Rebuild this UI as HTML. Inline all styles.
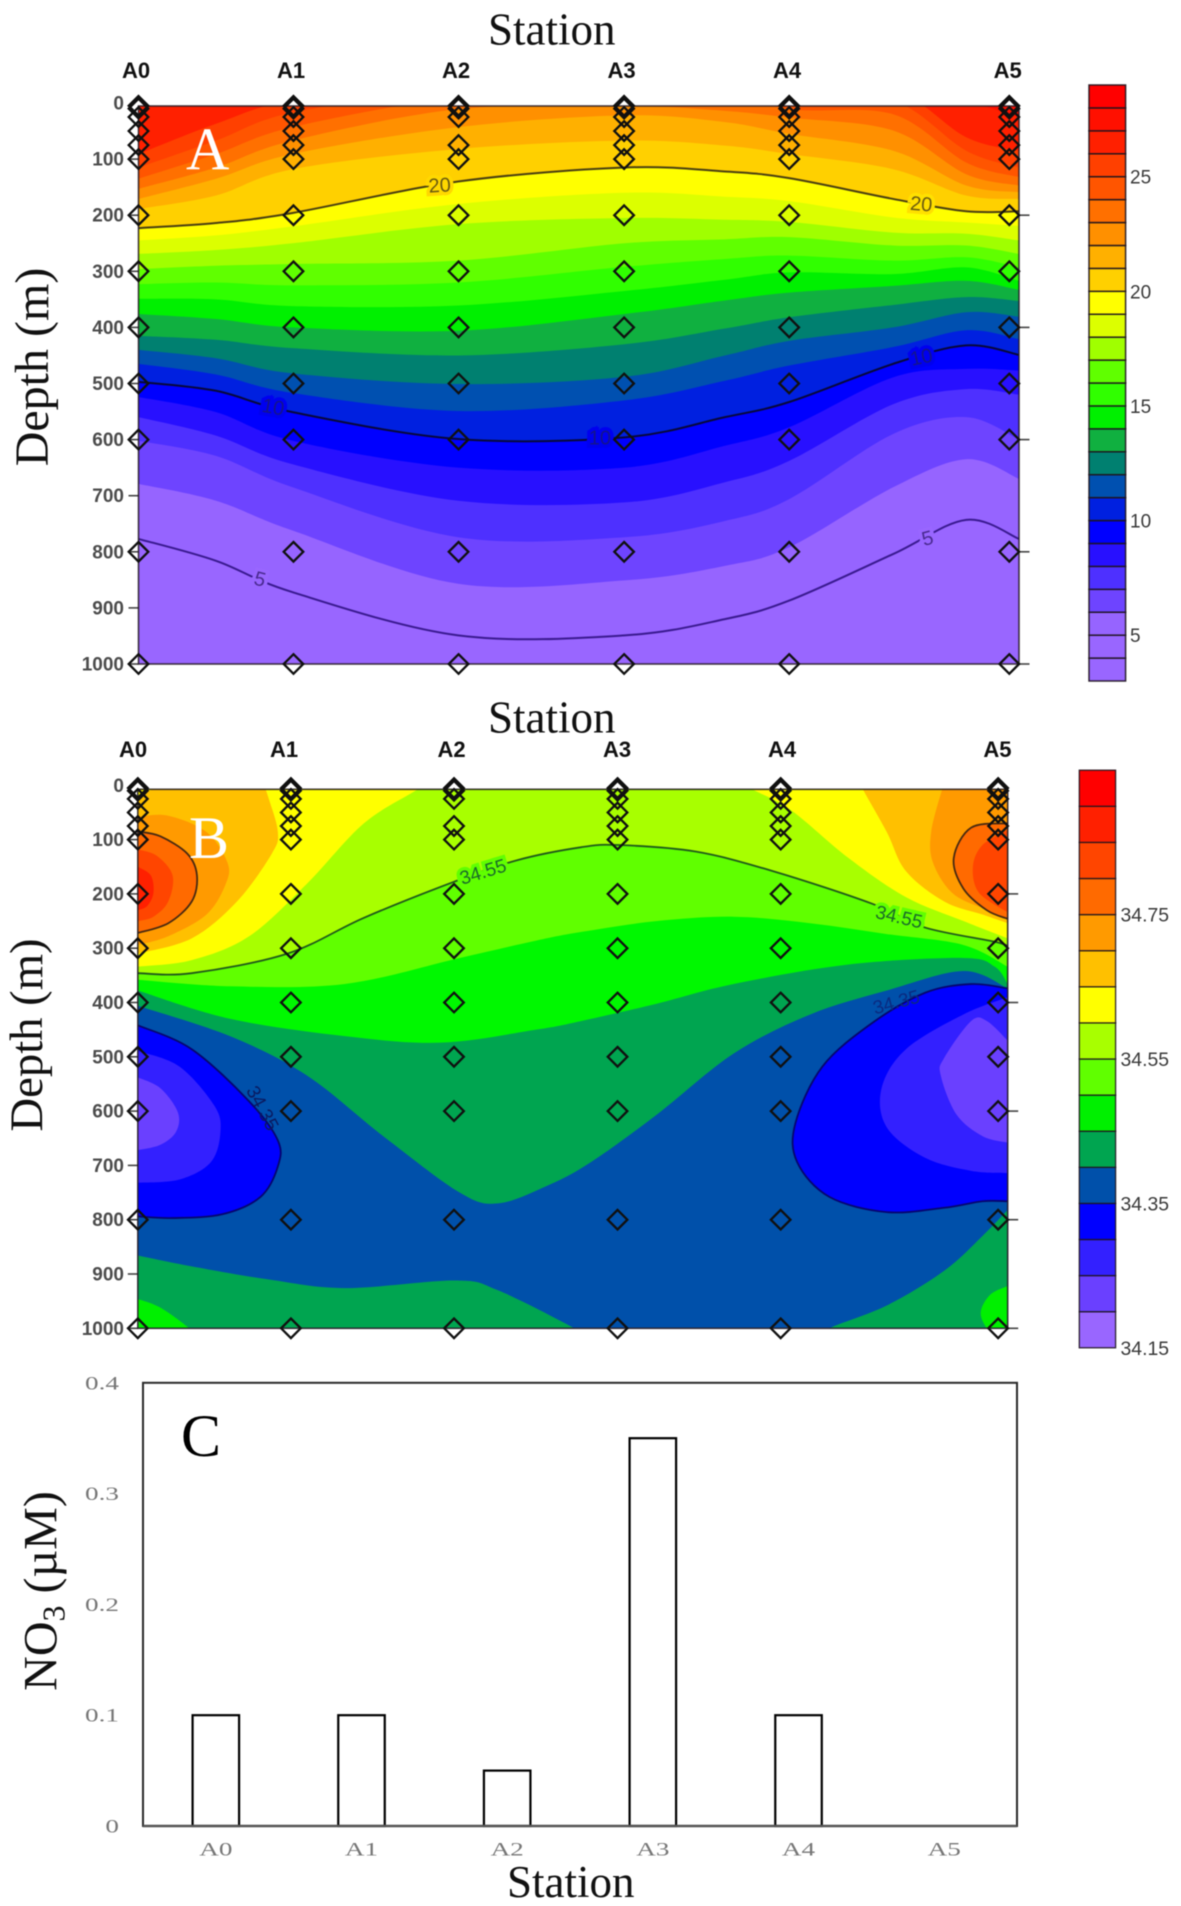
<!DOCTYPE html>
<html lang="en">
<head>
<meta charset="utf-8">
<title>Temperature, salinity and nitrate by station</title>
<style>
html,body{margin:0;padding:0;background:#fff;}
svg{display:block;filter:blur(.5px);}
.serif{font-family:"Liberation Serif",serif;}
.sans{font-family:"Liberation Sans",sans-serif;}
</style>
</head>
<body>
<svg id="fig" xmlns="http://www.w3.org/2000/svg" width="1181" height="1906" viewBox="0 0 1181 1906">
  <rect x="0" y="0" width="1181" height="1906" fill="#ffffff"/>
  <defs>
    <clipPath id="clipA"><rect x="138.5" y="106" width="880.5" height="558"/></clipPath>
    <clipPath id="clipB"><rect x="137.8" y="789.3" width="869.9" height="539"/></clipPath>
  </defs>
  <g id="panelA"></g>
  <g id="panelB"></g>
  <g id="panelC"></g>
  <g id="titles">
    <text class="serif" x="488" y="44.6" font-size="45" fill="#111">Station</text>
    <text class="serif" x="488" y="732.5" font-size="45" fill="#111">Station</text>
    <text class="serif" x="507" y="1897" font-size="45" fill="#111">Station</text>
    <text class="serif" transform="translate(48,367) rotate(-90)" text-anchor="middle" font-size="48" fill="#111">Depth (m)</text>
    <text class="serif" transform="translate(42,1035) rotate(-90)" text-anchor="middle" font-size="46.7" fill="#111">Depth (m)</text>
    <text class="serif" transform="translate(56.5,1591) rotate(-90)" text-anchor="middle" font-size="48" fill="#111">NO<tspan dy="8" font-size="32">3</tspan><tspan dy="-8">&#160;(µM)</tspan></text>
    <text class="serif" x="186" y="169.6" font-size="60" fill="#ffffff">A</text>
    <text class="serif" x="189" y="858" font-size="60" fill="#ffffff">B</text>
    <text class="serif" x="181" y="1456" font-size="60" fill="#000000">C</text>
  </g>
</svg>
<script>
// ---------- shared axes data ----------
const stationNames = ['A0', 'A1', 'A2', 'A3', 'A4', 'A5'];
const stationDistance = [0, 17.6, 36.35, 55.15, 73.9, 98.9];
const castDepths = [5, 10, 25, 50, 75, 100, 200, 300, 400, 500, 600, 800, 1000];
const castDepthsA2 = [5, 10, 25, 75, 100, 200, 300, 400, 500, 600, 800, 1000];
const depthTicks = [0, 100, 200, 300, 400, 500, 600, 700, 800, 900, 1000];
const rightDepthTicks = [200, 400, 600, 800, 1000];

// ---------- panel A: isotherm depths (m) along the section ----------
const tempSectionDistance = [0, 8.8, 17.5, 36.3, 55.2, 66.6, 73.9, 85.7, 94, 100];
const isotherm4  = [900, 950, 1000, 1010, 1010, 1000, 990, 960, 930, 930];
const isotherm5  = [777, 816, 872, 949, 949, 920, 887, 804, 743, 777];
const isotherm6  = [679, 709, 762, 857, 851, 825, 792, 685, 635, 670];
const isotherm7  = [602, 629, 685, 774, 774, 745, 706, 590, 560, 600];
const isotherm8  = [560, 593, 644, 709, 712, 676, 638, 537, 510, 520];
const isotherm9  = [524, 551, 602, 650, 650, 611, 578, 489, 474, 477];
const isotherm10 = [497, 513, 551, 599, 596, 560, 533, 465, 432, 449];
const isotherm11 = [465, 484, 517, 549, 530, 495, 468, 435, 405, 421];
const isotherm12 = [440, 455, 482, 501, 488, 450, 424, 400, 373, 381];
const isotherm13 = [415, 422, 437, 450, 430, 402, 382, 360, 346, 353];
const isotherm14 = [376, 385, 400, 406, 376, 352, 338, 326, 317, 333];
const isotherm15 = [349, 350, 362, 361, 335, 315, 302, 305, 293, 317];
const isotherm16 = [323, 320, 325, 320, 292, 278, 272, 281, 275, 293];
const isotherm17 = [296, 290, 287, 281, 250, 243, 239, 254, 254, 269];
const isotherm18 = [269, 262, 250, 216, 205, 208, 212, 231, 233, 245];
const isotherm19 = [245, 236, 220, 180, 160, 167, 175, 204, 213, 219];
const isotherm20 = [223, 214, 196, 140, 115, 122, 134, 171, 193, 193];
const isotherm21 = [189, 165, 118, 82, 67, 76, 91, 118, 165, 171];
const isotherm22 = [171, 135, 91, 43, 22, 34, 55, 85, 147, 159];
const isotherm23 = [153, 115, 67, 11, 5, 14, 26, 49, 127, 147];
const isotherm24 = [135, 91, 43, -10, -25, -25, 11, 20, 106, 132];
const isotherm25 = [115, 67, 17, -25, -40, -40, -25, -5, 85, 115];
const isotherm26 = [91, 37, -5, -40, -50, -50, -40, -25, 61, 85];
const isotherm27 = [-10, -25, -50, -60, -60, -60, -60, -50, -5, 25];
const isotherm28 = [-60, -60, -60, -60, -60, -60, -60, -60, -40, -30];
const tempLevels = [4, 5, 6, 7, 8, 9, 10, 11, 12, 13, 14, 15, 16, 17, 18, 19, 20, 21, 22, 23, 24, 25, 26, 27, 28];
const isothermDepths = [isotherm4, isotherm5, isotherm6, isotherm7, isotherm8, isotherm9, isotherm10, isotherm11, isotherm12, isotherm13, isotherm14, isotherm15, isotherm16, isotherm17, isotherm18, isotherm19, isotherm20, isotherm21, isotherm22, isotherm23, isotherm24, isotherm25, isotherm26, isotherm27, isotherm28];
const tempContourLevels = [5, 10, 20];
const tempColorbarEdges = [3, 4, 5, 6, 7, 8, 9, 10, 11, 12, 13, 14, 15, 16, 17, 18, 19, 20, 21, 22, 23, 24, 25, 26, 27, 28, 29];
const tempColorbarTicks = [5, 10, 15, 20, 25];
const tempColors = ['#9966ff', '#9966ff', '#9664ff', '#6e44ff', '#4e30ff', '#2810ff', '#0000ff', '#0020e0', '#0050b0', '#008070', '#10b040', '#00f000', '#30ff00', '#60ff00', '#a0ff00', '#dcff00', '#ffff00', '#ffd000', '#ffb000', '#ff9000', '#ff7000', '#ff5500', '#ff4000', '#ff2000', '#ff1000', '#ff0000'];
const tempContourLabels = [
  {level: 20, u: 34.2, angle: -4, ink: '#6a5a10', halo: '#ffd800'},
  {level: 20, u: 88.9, angle: 5, ink: '#6a5a10', halo: '#ffe000'},
  {level: 10, u: 15.3, angle: 10, ink: '#14148c', halo: '#0000f0'},
  {level: 10, u: 52.4, angle: 0, ink: '#14148c', halo: '#0000f0'},
  {level: 10, u: 88.9, angle: -12, ink: '#14148c', halo: '#0000f0'},
  {level: 5, u: 13.8, angle: 15, ink: '#4a2a90', halo: '#9966ff'},
  {level: 5, u: 89.6, angle: -15, ink: '#4a2a90', halo: '#9966ff'}
];

// ---------- panel B: salinity band outlines as [distance %, depth m] ----------
const salinityBelow3435Fill = '#0050aa';
const upperDarkGreen = [[0,406],[10.6,462],[19.4,534],[28.2,646],[37,750],[41.4,770],[47,738],[52,695],[59.7,606],[68.5,494],[77.3,422],[86.1,378],[94.9,342],[100,374]];
const upperGreen = [[0,378],[10.6,430],[23.8,462],[34.8,474],[45.8,450],[51,434],[59.7,402],[68.5,366],[81.7,330],[94.9,318],[98.5,334],[100,366]];
const upperLime = [[0,358],[10.6,370],[23.8,366],[37,318],[45.8,286],[51,270],[59.7,250],[68.5,242],[77.3,254],[86.1,274],[94.9,294],[100,334]];
const isohaline3455 = [[0,346],[6.2,346],[17.2,310],[26,244],[36.3,178],[43.6,138],[51,114],[55.3,110],[64.1,122],[73,158],[84.4,218],[90.5,262],[99,290],[100,302]];
const yellowLeft = [[0,334],[6.2,322],[12.8,278],[19.4,182],[26,70],[32.3,6],[33.9,-18]];
const yellowRight = [[69,-14],[70.5,6],[75.1,46],[81.7,134],[88.3,206],[94.9,250],[100,282]];
const amberLeft = [[0,310],[6.2,282],[11.4,214],[15.4,126],[16.1,86],[15,22],[14.1,-18]];
const amberRight = [[82.6,-18],[83.3,6],[86.1,86],[88.3,158],[92.7,214],[97.1,238],[100,254]];
const orangeLeft = [[0,58],[3.5,56],[7.9,86],[10.3,142],[10.1,182],[7.9,238],[3.5,278],[0,294]];
const orangeRight = [[93.2,-18],[92.5,6],[91.2,86],[91.4,142],[93.6,198],[97.1,226],[100,238]];
const isohaline3475Left = [[0,85],[2.6,94],[5.7,126],[6.8,166],[6.2,214],[3.5,254],[0,272]];
const isohaline3475Right = [[100,70],[95.8,78],[93.8,134],[94.9,190],[97.6,230],[100,246]];
const redOrangeLeft = [[0,118],[2.2,130],[4,166],[3.5,214],[1.8,242],[0,250]];
const redOrangeRight = [[100,82],[97.1,110],[96,150],[96.7,198],[100,234]];
const redLeft = [[0,150],[1.5,166],[1.8,198],[1.1,222],[0,230]];
const isohaline3435Left = [[0,442],[6.2,486],[12.8,582],[16.1,654],[16.1,702],[14.1,758],[9.7,790],[4,797],[0,794]];
const indigoLeft = [[0,489],[4.8,518],[8.8,590],[9.5,638],[8.4,694],[4.8,726],[0,732]];
const violetLeft = [[0,538],[2.6,558],[4.6,602],[4.4,638],[2.6,662],[0,672]];
const isohaline3435Right = [[100,374],[95.8,366],[90.5,382],[84.4,438],[78.7,518],[75.6,622],[75.8,694],[79.5,758],[86.1,786],[92.7,778],[97.1,766],[100,766]];
const indigoRight = [[100,390],[94.9,422],[88.3,486],[85.5,558],[86.1,630],[90.5,686],[95.8,710],[100,714]];
const violetRight = [[100,470],[97.6,434],[95.8,434],[92.7,502],[92.3,534],[94.1,606],[97.1,646],[100,658]];
const bottomDarkGreenLeft = [[0,866],[6.2,886],[15,910],[23.8,926],[36.5,912],[41.4,930],[50.2,1000],[52,1022]];
const bottomGreenLeft = [[0,946],[2.6,962],[5.9,1000],[7,1022]];
const bottomDarkGreenRight = [[78.2,1022],[79.5,1000],[86.1,958],[92.7,894],[97.1,830],[100,782]];
const bottomGreenRight = [[100,922],[98,938],[96.9,970],[97.6,1000],[99,1022]];
const salinityLayers = [
  {key: 'upper-dark-green', fill: '#00a550', curve: upperDarkGreen, corners: [[100,-20],[0,-20]]},
  {key: 'upper-green', fill: '#00f800', curve: upperGreen, corners: [[100,-20],[0,-20]]},
  {key: 'upper-lime', fill: '#60ff00', curve: upperLime, corners: [[100,-20],[0,-20]]},
  {key: 'yellow-green', fill: '#a8ff00', curve: isohaline3455, corners: [[100,-20],[0,-20]]},
  {key: 'yellow-left', fill: '#ffff00', curve: yellowLeft, corners: [[0,-20]]},
  {key: 'yellow-right', fill: '#ffff00', curve: yellowRight, corners: [[100,-20]]},
  {key: 'amber-left', fill: '#ffc000', curve: amberLeft, corners: [[4,-10],[0,20]]},
  {key: 'amber-right', fill: '#ffc000', curve: amberRight, corners: [[100,-20]]},
  {key: 'orange-left', fill: '#ff9a00', curve: orangeLeft, corners: []},
  {key: 'orange-right', fill: '#ff9a00', curve: orangeRight, corners: [[100,-20]]},
  {key: 'deep-orange-left', fill: '#ff6a00', curve: isohaline3475Left, corners: []},
  {key: 'deep-orange-right', fill: '#ff6a00', curve: isohaline3475Right, corners: []},
  {key: 'red-orange-left', fill: '#ff4500', curve: redOrangeLeft, corners: []},
  {key: 'red-orange-right', fill: '#ff4500', curve: redOrangeRight, corners: []},
  {key: 'red-left', fill: '#ff2000', curve: redLeft, corners: []},
  {key: 'blue-left', fill: '#0000ff', curve: isohaline3435Left, corners: []},
  {key: 'indigo-left', fill: '#3320ff', curve: indigoLeft, corners: []},
  {key: 'violet-left', fill: '#6a40ff', curve: violetLeft, corners: []},
  {key: 'blue-right', fill: '#0000ff', curve: isohaline3435Right, corners: []},
  {key: 'indigo-right', fill: '#3320ff', curve: indigoRight, corners: []},
  {key: 'violet-right', fill: '#6a40ff', curve: violetRight, corners: []},
  {key: 'bottom-dark-green-left', fill: '#00a550', curve: bottomDarkGreenLeft, corners: [[0,1030]]},
  {key: 'bottom-green-left', fill: '#00f000', curve: bottomGreenLeft, corners: [[0,1030]]},
  {key: 'bottom-dark-green-right', fill: '#00a550', curve: bottomDarkGreenRight, corners: [[100,1030]]},
  {key: 'bottom-green-right', fill: '#00f000', curve: bottomGreenRight, corners: [[100,1030]]}
];
const salinityContours = [
  {key: '34-55', curve: isohaline3455, stroke: '#1f5a1a'},
  {key: '34-75-left', curve: isohaline3475Left, stroke: '#4a2a10'},
  {key: '34-75-right', curve: isohaline3475Right, stroke: '#4a2a10'},
  {key: '34-35-left', curve: isohaline3435Left, stroke: '#06066e'},
  {key: '34-35-right', curve: isohaline3435Right, stroke: '#06066e'}
];
const salinityContourLabels = [
  {text: '34.55', u: 39.7, d: 160, angle: -17, ink: '#1a6a2a', halo: '#60ff00'},
  {text: '34.55', u: 87.5, d: 243, angle: 13, ink: '#1a6a2a', halo: '#60ff00'},
  {text: '34.35', u: 14.3, d: 595, angle: 62, ink: '#0a1a60', halo: 'none'},
  {text: '34.35', u: 87.2, d: 400, angle: -15, ink: '#0a2a80', halo: 'none'}
];
const salinityColorbarEdges = [34.15, 34.2, 34.25, 34.3, 34.35, 34.4, 34.45, 34.5, 34.55, 34.6, 34.65, 34.7, 34.75, 34.8, 34.85, 34.9, 34.95];
const salinityColorbarTicks = [34.15, 34.35, 34.55, 34.75];
const salinityColors = ['#9966ff', '#6a40ff', '#3320ff', '#0000ff', '#0050aa', '#00a550', '#00f000', '#60ff00', '#a8ff00', '#ffff00', '#ffc000', '#ff9a00', '#ff6a00', '#ff4500', '#ff2000', '#ff0000'];

// ---------- panel C: nitrate ----------
const nitrateValues = [0.1, 0.1, 0.05, 0.35, 0.1, 0];
const nitrateTicks = [0, 0.1, 0.2, 0.3, 0.4];
const nitrateTickLabels = ['0', '0.1', '0.2', '0.3', '0.4'];

// ---------- axis functions ----------
function xA(u) { return 138.5 + u * 8.805; }
function yA(d) { return 103 + d * 0.561; }
function xB(u) { return 137.8 + u * 8.699; }
function yB(d) { return 785.3 + d * 0.543; }
function cbA(v) { return 85 + (29 - v) * 22.923; }
function cbB(v) { return 770.2 + (34.95 - v) * 722; }
function yC(v) { return 1826 - v * 1108; }
function xCBand(i) { return 143 + 145.67 * (i + 0.5); }

const NS = 'http://www.w3.org/2000/svg';
function make(parent, tag, attrs, text) {
  const el = document.createElementNS(NS, tag);
  for (const k in attrs) el.setAttribute(k, attrs[k]);
  if (text !== undefined) el.textContent = text;
  parent.appendChild(el);
  return el;
}
function f(n) { return n.toFixed(2); }
function spline(pts) {
  let s = 'M' + f(pts[0][0]) + ' ' + f(pts[0][1]);
  for (let i = 0; i < pts.length - 1; i++) {
    const p0 = pts[Math.max(i - 1, 0)], p1 = pts[i], p2 = pts[i + 1], p3 = pts[Math.min(i + 2, pts.length - 1)];
    const c1x = p1[0] + (p2[0] - p0[0]) / 6, c1y = p1[1] + (p2[1] - p0[1]) / 6;
    const c2x = p2[0] - (p3[0] - p1[0]) / 6, c2y = p2[1] - (p3[1] - p1[1]) / 6;
    s += 'C' + f(c1x) + ' ' + f(c1y) + ' ' + f(c2x) + ' ' + f(c2y) + ' ' + f(p2[0]) + ' ' + f(p2[1]);
  }
  return s;
}
function corners(list, X, Y) {
  return list.map(function (c) { return 'L' + f(X(c[0])) + ' ' + f(Y(c[1])); }).join('') + 'Z';
}
function depthAt(depths, u) {
  for (let i = 0; i < tempSectionDistance.length - 1; i++) {
    const a = tempSectionDistance[i], b = tempSectionDistance[i + 1];
    if (u >= a && u <= b) return depths[i] + (depths[i + 1] - depths[i]) * (u - a) / (b - a);
  }
  return depths[depths.length - 1];
}
function diamondPath(x, y) {
  const r = 9.8;
  return 'M' + f(x) + ' ' + f(y - r) + 'L' + f(x + r) + ' ' + f(y) + 'L' + f(x) + ' ' + f(y + r) + 'L' + f(x - r) + ' ' + f(y) + 'Z';
}

function drawFurniture(g, X, Y, labelBaseline, labelXs, rightEdge, leftEdge, boxTop, boxBottom, prefix) {
  depthTicks.forEach(function (d) {
    const lab = make(g, 'text', {x: 124, y: Y(d) + 6.5, 'text-anchor': 'end', 'font-size': 19, 'font-weight': 'bold', fill: '#4c4c4c', 'class': 'sans'}, String(d));
    
    
    if (d > 0) {
      const t = make(g, 'line', {x1: leftEdge - 10, x2: leftEdge, y1: Y(d), y2: Y(d), stroke: '#444', 'stroke-width': 1.6});
      
      
    }
  });
  rightDepthTicks.forEach(function (d) {
    const t = make(g, 'line', {x1: rightEdge, x2: rightEdge + 10.5, y1: Y(d), y2: Y(d), stroke: '#444', 'stroke-width': 1.6});
    
    
  });
  const border = make(g, 'rect', {x: leftEdge, y: boxTop, width: rightEdge - leftEdge, height: boxBottom - boxTop, fill: 'none', stroke: 'rgba(35,25,35,.85)', 'stroke-width': 1.6});
  
  
  stationNames.forEach(function (name, i) {
    const lab = make(g, 'text', {x: labelXs[i], y: labelBaseline, 'text-anchor': 'middle', 'font-size': 22, 'font-weight': 'bold', fill: '#111', 'class': 'sans'}, name);
    
    
    const cast = name === 'A2' ? castDepthsA2 : castDepths;
    cast.forEach(function (d) {
      const m = make(g, 'path', {d: diamondPath(X(stationDistance[i]), Y(d)), fill: 'none', stroke: '#101010', 'stroke-width': 2.3});
      
      
    });
  });
}

// ---------- draw panel A ----------
(function () {
  const g = document.getElementById('panelA');
  const bands = make(g, 'g', {'clip-path': 'url(#clipA)'});
  
  
  const base = make(bands, 'rect', {x: 130, y: 100, width: 900, height: 570, fill: tempColors[0]});
  
  
  function isoPts(depths) {
    return depths.map(function (d, i) { return [xA(tempSectionDistance[i]), yA(d)]; });
  }
  tempLevels.forEach(function (level, i) {
    const pts = isoPts(isothermDepths[i]);
    const p = make(bands, 'path', {d: spline(pts) + corners([[100, -80], [0, -80]], xA, yA), fill: tempColors[i + 1]});
    
    
  });
  tempContourLevels.forEach(function (level) {
    const depths = isothermDepths[tempLevels.indexOf(level)];
    const stroke = level === 20 ? '#4a3f10' : (level === 10 ? '#08083a' : '#3a1a90');
    const c = make(bands, 'path', {d: spline(isoPts(depths)), fill: 'none', stroke: stroke, 'stroke-width': 2});
    
    
  });
  tempContourLabels.forEach(function (l) {
    const d = depthAt(isothermDepths[tempLevels.indexOf(l.level)], l.u);
    const x = xA(l.u), y = yA(d);
    const t = make(bands, 'text', {transform: 'translate(' + f(x) + ',' + f(y) + ') rotate(' + l.angle + ')', y: 7, 'text-anchor': 'middle', 'font-size': 20, fill: l.ink, stroke: l.halo, 'stroke-width': 7, 'paint-order': 'stroke', 'class': 'sans'}, String(l.level));
    
    
  });
  drawFurniture(g, xA, yA, 78, [136, 291, 456, 621.6, 787, 1007.7], 1019, 138.5, 106, 664, 'panel-a');

  for (let i = 0; i < tempColorbarEdges.length - 1; i++) {
    const top = cbA(tempColorbarEdges[i + 1]), bottom = cbA(tempColorbarEdges[i]);
    const cell = make(g, 'rect', {x: 1089, y: top, width: 36.6, height: bottom - top, fill: tempColors[i], stroke: 'rgba(30,20,30,.9)', 'stroke-width': 1.5});
    
    
  }
  tempColorbarTicks.forEach(function (v) {
    const t = make(g, 'text', {x: 1130, y: cbA(v) + 7, 'font-size': 19, fill: '#3a3a3a', 'class': 'sans'}, String(v));
    
    
  });
})();

// ---------- draw panel B ----------
(function () {
  const g = document.getElementById('panelB');
  const bands = make(g, 'g', {'clip-path': 'url(#clipB)'});
  
  
  const base = make(bands, 'rect', {x: 130, y: 780, width: 890, height: 560, fill: salinityBelow3435Fill});
  
  
  function pxPts(curve) {
    return curve.map(function (p) { return [xB(p[0]), yB(p[1])]; });
  }
  salinityLayers.forEach(function (layer) {
    const p = make(bands, 'path', {d: spline(pxPts(layer.curve)) + corners(layer.corners, xB, yB), fill: layer.fill});
    
    
  });
  salinityContours.forEach(function (c) {
    const p = make(bands, 'path', {d: spline(pxPts(c.curve)), fill: 'none', stroke: c.stroke, 'stroke-width': 1.8});
    
    
  });
  salinityContourLabels.forEach(function (l) {
    const attrs = {transform: 'translate(' + f(xB(l.u)) + ',' + f(yB(l.d)) + ') rotate(' + l.angle + ')', y: 6, 'text-anchor': 'middle', 'font-size': 19, fill: l.ink, 'class': 'sans'};
    if (l.halo !== 'none') { attrs.stroke = l.halo; attrs['stroke-width'] = 7; attrs['paint-order'] = 'stroke'; }
    const t = make(bands, 'text', attrs, l.text);
    
    
  });
  drawFurniture(g, xB, yB, 757, [133, 284, 451.6, 617, 782, 997.4], 1007.7, 137.8, 789.3, 1328.3, 'panel-b');

  for (let i = 0; i < salinityColorbarEdges.length - 1; i++) {
    const top = cbB(salinityColorbarEdges[i + 1]), bottom = cbB(salinityColorbarEdges[i]);
    const cell = make(g, 'rect', {x: 1079.3, y: top, width: 36.3, height: bottom - top, fill: salinityColors[i], stroke: 'rgba(30,20,30,.9)', 'stroke-width': 1.3});
    
    
  }
  salinityColorbarTicks.forEach(function (v) {
    const t = make(g, 'text', {x: 1120.5, y: cbB(v) + 7, 'font-size': 19.4, fill: '#3a3a3a', 'class': 'sans'}, v.toFixed(2));
    
    
  });
})();

// ---------- draw panel C ----------
(function () {
  const g = document.getElementById('panelC');
  const frame = make(g, 'rect', {x: 143, y: yC(0.4), width: 874, height: yC(0) - yC(0.4), fill: '#fff', stroke: '#2a2a2a', 'stroke-width': 2});
  
  
  const barWidth = 46.5;
  nitrateValues.forEach(function (v, i) {
    if (v <= 0) return;
    const bar = make(g, 'rect', {x: xCBand(i) - barWidth / 2, y: yC(v), width: barWidth, height: yC(0) - yC(v), fill: '#fff', stroke: '#000', 'stroke-width': 2.2});
    
    
  });
  const axis = make(g, 'line', {x1: 143, x2: 1017, y1: yC(0), y2: yC(0), stroke: '#555', 'stroke-width': 2.6});
  
  
  nitrateTicks.forEach(function (v, i) {
    const t = make(g, 'text', {transform: 'translate(119,' + f(yC(v) + 6.5) + ') scale(1.43,1)', 'text-anchor': 'end', 'font-size': 19, fill: '#777', 'class': 'serif'}, nitrateTickLabels[i]);
    
    
  });
  stationNames.forEach(function (name, i) {
    const t = make(g, 'text', {transform: 'translate(' + f(xCBand(i)) + ',1855.5) scale(1.43,1)', 'text-anchor': 'middle', 'font-size': 19, fill: '#777', 'class': 'serif'}, name);
    
    
  });
})();
</script>
</body>
</html>
